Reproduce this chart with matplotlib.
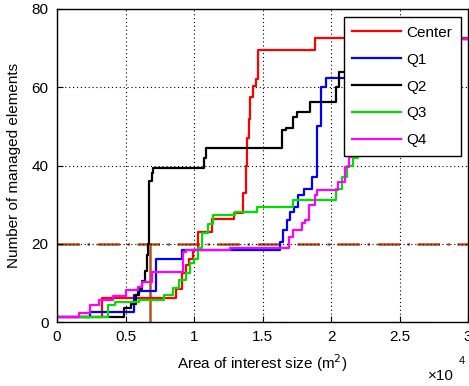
import matplotlib
matplotlib.use("Agg")
import matplotlib.pyplot as plt

plt.rcParams['font.family'] = ['Liberation Sans', 'DejaVu Sans']

# ==================== DATA (x in units of 1e4 m^2) ====================
center_x = [0, 0.33, 0.87, 0.91, 0.94, 0.96, 0.99, 1.03, 1.13, 1.29, 1.36, 1.38, 1.39, 1.40, 1.41, 1.43, 1.45, 1.47, 1.88, 3.0]
center_y = [1.4, 6.2, 8.5, 12.5, 14.5, 16, 18.5, 23.0, 26.4, 27.9, 33, 40, 47, 52, 57.5, 60.3, 62, 69.4, 72.5, 72.5]

q1_x = [0, 0.24, 0.56, 0.59, 0.72, 0.91, 1.63, 1.65, 1.68, 1.70, 1.73, 1.76, 1.80, 1.86, 1.90, 1.93, 1.96, 2.20, 2.30, 3.0]
q1_y = [1.4, 2.5, 6.9, 7.8, 16.2, 18.4, 20.5, 23.5, 26, 28, 29.5, 32.5, 34, 37, 50, 60, 62.4, 68, 72.4, 72.4]

q2_x = [0, 0.39, 0.49, 0.54, 0.58, 0.60, 0.62, 0.64, 0.655, 0.665, 0.67, 0.675, 0.69, 0.70, 1.07, 1.09, 1.64, 1.67, 1.72, 1.75, 1.85, 2.04, 2.06, 2.25, 3.0]
q2_y = [1.4, 1.4, 3.6, 4.5, 7, 8.5, 10.5, 13, 17, 20, 30, 36, 38, 39.4, 42, 44.5, 49, 49.6, 52.5, 53.8, 56.3, 60, 64, 72.4, 72.4]

q3_x = [0, 0.37, 0.42, 0.60, 0.78, 0.85, 0.89, 0.94, 0.97, 1.00, 1.03, 1.06, 1.10, 1.14, 1.30, 1.46, 1.72, 2.04, 2.08, 2.12, 2.16, 2.20, 2.30, 3.0]
q3_y = [1.4, 4.3, 5.0, 5.6, 6.9, 8.7, 10.7, 12.5, 15.1, 16, 19, 22.8, 25, 27.4, 28.1, 29.4, 31.2, 34, 37, 40, 42, 48, 72.4, 72.4]

q4_x = [0, 0.16, 0.24, 0.31, 0.41, 0.50, 0.59, 0.62, 0.69, 0.92, 0.94, 1.26, 1.69, 1.72, 1.79, 1.81, 1.84, 1.88, 1.90, 2.05, 2.10, 2.13, 2.15, 2.22, 2.30, 3.0]
q4_y = [1.4, 2.3, 4.3, 5.6, 6.6, 8.2, 9.0, 10.2, 12.8, 17.9, 18.4, 18.9, 21.8, 23.5, 25.3, 26.1, 29.9, 32.5, 33.8, 35.8, 39.6, 42.2, 45, 60, 72.4, 72.4]

threshold = 20
marker_x = 0.68

series = [
    ("Center", center_x, center_y, "#ff0000"),
    ("Q1", q1_x, q1_y, "#0000ff"),
    ("Q2", q2_x, q2_y, "#000000"),
    ("Q3", q3_x, q3_y, "#00e000"),
    ("Q4", q4_x, q4_y, "#ff00ff"),
]

# ==================== PLOT ====================
fig = plt.figure(figsize=(4.69, 3.86), dpi=100)
ax = fig.add_axes([57 / 469, 64 / 386, 411 / 469, 313 / 386])

brown = "#b8501a"
ax.axhline(threshold, color=brown, lw=1.8, linestyle=(0, (9, 3, 1, 3)), zorder=1)
ax.plot([marker_x, marker_x], [0, threshold], color=brown, lw=1.8, zorder=1)

for name, xs, ys, col in series:
    ax.step(xs, ys, where="post", color=col, lw=1.6, label=name, zorder=2)

ax.set_xlim(0, 3)
ax.set_ylim(0, 80)
ax.set_xticks([0, 0.5, 1, 1.5, 2, 2.5, 3])
ax.set_xticklabels(["0", "0.5", "1", "1.5", "2", "2.5", "3"])
ax.set_yticks([0, 20, 40, 60, 80])
ax.tick_params(direction="in", length=4, labelsize=11, pad=6)
ax.grid(True, color="k", linestyle=(0, (1, 2.5)), lw=0.8)
for s in ax.spines.values():
    s.set_linewidth(1.0)

ax.set_xlabel("Area of interest size (m$^2$)", fontsize=11, labelpad=6)
ax.set_ylabel("Number of managed elements", fontsize=11, labelpad=8)

fig.text(428 / 469, 1 - 376 / 386, "\u00d710", fontsize=11, va="center", ha="left")
fig.text(459 / 469, 1 - 361 / 386, "4", fontsize=8, va="center", ha="left")

leg = ax.legend(loc="upper left", bbox_to_anchor=(0.698, 0.974), borderaxespad=0,
                fontsize=11, handlelength=3.2, handletextpad=0.35, labelspacing=0.85,
                borderpad=0.55, fancybox=False, framealpha=1, edgecolor="k")
leg.get_frame().set_linewidth(1.0)

fig.savefig("out.png", dpi=100)
